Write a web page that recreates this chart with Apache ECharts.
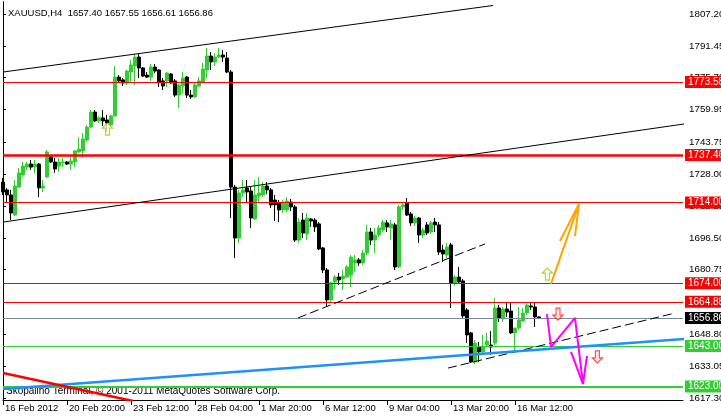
<!DOCTYPE html>
<html><head><meta charset="utf-8">
<script src="https://cdn.jsdelivr.net/npm/echarts@6/dist/echarts.min.js"></script>
<style>html,body{margin:0;padding:0;background:#fff}#c{width:721px;height:417px}</style>
</head><body><div id="c"></div>
<script>
// ---- data ----
const timeLabels = ['16 Feb 2012','20 Feb 20:00','23 Feb 12:00','28 Feb 04:00','1 Mar 20:00','6 Mar 12:00','9 Mar 04:00','13 Mar 20:00','16 Mar 12:00'];
const barsPerLabel = 16;
const slotCount = 171; // bar slots incl. empty chart shift on the right

const opens = [1724.1,1720.2,1717.7,1707.8,1721.6,1727.6,1731.5,1733.0,1731.5,1733.0,
1721.2,1726.6,1736.5,1734.0,1732.0,1733.5,1734.0,1733.0,1734.0,1739.0,
1739.5,1744.9,1751.3,1758.7,1754.3,1755.8,1754.8,1752.3,1756.8,1776.0,
1774.6,1773.1,1778.5,1781.5,1785.9,1780.5,1777.0,1776.0,1781.0,1779.5,
1774.1,1774.1,1777.5,1774.1,1767.1,1771.6,1776.0,1767.1,1766.2,1771.6,
1773.6,1779.5,1786.4,1783.5,1785.9,1786.9,1785.4,1778.5,1721.6,1696.4,
1718.7,1721.2,1719.7,1705.8,1717.2,1717.7,1722.1,1720.2,1715.2,1713.7,
1710.3,1710.3,1714.2,1711.8,1695.4,1705.3,1698.4,1705.8,1705.3,1703.4,
1691.5,1680.6,1665.8,1674.7,1677.1,1676.2,1677.1,1678.1,1684.1,1685.6,
1684.1,1689.0,1699.4,1695.4,1697.9,1700.4,1703.9,1701.4,1702.9,1682.1,
1711.8,1713.7,1708.3,1703.9,1706.3,1697.9,1702.9,1699.4,1704.3,1702.9,
1690.5,1688.0,1693.0,1674.2,1677.1,1675.2,1660.8,1649.5,1635.1,1642.5,
1640.1,1643.5,1643.5,1644.5,1661.8,1656.4,1661.3,1660.3,1649.5,1651.9,
1655.4,1659.3,1662.8,1662.3,1657.40];
const closes = [1719.2,1717.7,1708.8,1722.1,1728.6,1732.0,1733.0,1731.5,1733.0,1721.2,
1722.1,1739.0,1734.0,1730.6,1734.0,1734.0,1733.0,1734.5,1739.5,1740.4,
1745.4,1751.3,1758.7,1754.3,1755.8,1754.3,1753.3,1756.8,1776.0,1774.1,
1773.1,1779.0,1782.0,1785.9,1780.5,1776.5,1776.0,1781.0,1779.0,1773.6,
1771.6,1778.0,1773.1,1767.1,1772.1,1775.5,1767.1,1766.2,1772.1,1774.1,
1780.0,1786.4,1783.5,1785.9,1786.9,1785.9,1778.5,1721.6,1696.4,1718.7,
1720.2,1719.2,1706.3,1717.7,1718.7,1722.1,1720.2,1712.8,1712.8,1710.3,
1714.2,1714.7,1711.8,1695.4,1704.3,1698.9,1706.3,1704.8,1701.9,1691.0,
1680.6,1665.8,1674.2,1677.1,1675.7,1677.6,1682.1,1687.0,1685.6,1684.1,
1689.0,1699.4,1695.4,1697.9,1701.4,1704.3,1701.9,1703.4,1682.1,1711.8,
1712.8,1707.8,1703.9,1706.3,1697.9,1700.4,1698.9,1703.9,1702.9,1689.5,
1688.5,1692.0,1674.2,1677.1,1674.7,1657.9,1648.5,1635.1,1644.5,1640.1,
1642.5,1645.5,1642.5,1661.8,1656.9,1661.3,1659.8,1649.5,1651.9,1655.9,
1659.3,1663.3,1662.3,1657.4,1656.86];
const highs = [1726.1,1721.2,1720.2,1725.1,1731.0,1734.0,1734.0,1735.0,1735.0,1733.5,
1725.1,1739.9,1737.5,1736.0,1736.0,1736.0,1734.5,1737.5,1739.9,1746.4,
1748.4,1752.3,1759.7,1759.7,1756.8,1759.7,1757.3,1757.3,1781.5,1777.0,
1775.5,1779.5,1784.5,1787.4,1787.4,1781.0,1778.5,1782.5,1782.5,1780.0,
1775.5,1778.5,1778.0,1775.1,1772.6,1778.5,1776.5,1769.6,1773.1,1776.0,
1783.0,1790.4,1788.4,1787.9,1790.4,1789.4,1788.4,1779.5,1722.6,1720.2,
1725.1,1725.1,1721.6,1725.1,1726.6,1724.1,1724.1,1721.2,1717.7,1715.2,
1715.2,1716.7,1715.7,1712.8,1706.3,1708.8,1708.8,1706.3,1706.3,1704.3,
1692.0,1681.6,1674.7,1678.1,1679.1,1680.6,1683.1,1688.0,1688.0,1686.5,
1690.5,1702.9,1701.4,1701.4,1702.9,1705.3,1705.3,1705.3,1703.9,1712.8,
1713.7,1716.2,1709.3,1707.3,1706.8,1701.4,1704.3,1704.8,1706.3,1704.3,
1693.0,1694.0,1694.0,1678.1,1682.1,1676.2,1661.8,1650.0,1646.0,1645.0,
1648.5,1649.5,1650.4,1666.8,1663.3,1662.3,1664.3,1664.3,1651.9,1662.3,
1661.8,1664.3,1664.3,1664.3,1657.55];
const lows = [1717.7,1713.7,1705.3,1707.3,1721.2,1726.6,1730.1,1730.1,1728.6,1716.7,
1719.2,1726.1,1733.5,1728.6,1729.1,1731.5,1732.5,1730.1,1731.5,1738.5,
1736.0,1743.9,1750.8,1753.8,1753.3,1751.8,1748.8,1751.8,1756.3,1773.1,
1771.6,1772.1,1773.6,1772.1,1775.5,1776.0,1775.5,1774.1,1778.0,1771.1,
1769.6,1771.1,1772.6,1766.2,1760.7,1768.1,1765.7,1765.2,1765.7,1771.1,
1773.1,1775.5,1779.5,1781.5,1785.4,1783.5,1778.0,1706.3,1686.5,1694.0,
1716.7,1714.2,1701.4,1705.3,1714.2,1716.7,1718.2,1711.3,1704.8,1704.3,
1708.8,1709.3,1709.8,1694.5,1694.0,1696.4,1695.4,1701.9,1699.4,1690.5,
1679.1,1662.3,1664.8,1670.7,1673.2,1670.7,1676.6,1672.2,1679.6,1682.6,
1683.1,1688.0,1693.0,1689.0,1696.9,1699.4,1699.4,1695.4,1680.6,1681.6,
1710.3,1707.3,1702.4,1702.4,1694.0,1696.4,1697.9,1698.4,1699.4,1688.0,
1684.6,1686.5,1661.8,1672.7,1673.7,1656.9,1644.5,1634.6,1634.1,1635.1,
1639.6,1642.5,1638.6,1643.5,1654.9,1654.9,1657.4,1649.0,1639.6,1650.9,
1654.9,1658.4,1660.8,1652.4,1656.61];

const priceTicks = [1807.20,1791.45,1775.70,1759.95,1743.75,1728.00,1712.25,1696.50,1680.75,1664.78,1648.80,1633.05,1617.30];
const priceMin = 1616.31, priceMax = 1813.13;

// horizontal levels
const levelValues = [1773.58,1737.46,1714.00,1674.00,1664.88,1656.86,1643.00,1623.00];
// trend lines: [barIndex, price]
const channelUpper = [[0,1778.5],[122.5,1811.4]];
const channelLower = [[0,1704.3],[170.25,1752.8]];
const dashedUpper = [[73.75,1656.9],[120.5,1693.5]];
const dashedLower = [[111.25,1632.1],[168,1659.3]];
const blueLine = [[0,1621.8],[170.25,1646.5]];
const redLine = [[0,1629.7],[32.5,1615.8]];
const orangeShaft = [[137,1673.7],[144,1713.2]];
const orangeHeadA = [[139.25,1694.9],[144,1713.2]];
const orangeHeadB = [[143,1697.4],[144,1713.2]];
const magentaPath = [[136,1658.8],[137,1642.5],[143,1656.9],[145,1624.2]];
const magentaHeadA = [[142,1640.1],[145,1624.2]];
const magentaHeadB = [[146,1638.1],[145,1624.2]];
const upArrows = [[26.1,1750.3],[136.1,1678.6]];
const downArrows = [[138.75,1658.8],[148.6,1637.6]];

const titleText = 'XAUUSD,H4  1657.40 1657.55 1656.61 1656.86';
const footerText = 'Skopalino Terminal, \u00A9 2001-2011 MetaQuotes Software Corp.';

// ---- styles ----
const FONT = "'Liberation Sans', Arial, sans-serif";
const FS = 9.5;
const RED = '#ff0000', GREEN = '#32cd32';
const levelColors = [RED, RED, RED, RED, RED, '#778899', GREEN, GREEN];
const levelWidths = [1, 2.5, 1, 1, 1, 1, 1, 2];
const tagColors = [RED, RED, RED, RED, RED, '#000000', GREEN, GREEN];

const categories = [];
for (let i = 0; i < slotCount; i++) {
  const k = i / barsPerLabel;
  categories.push(Number.isInteger(k) && timeLabels[k] ? timeLabels[k] : 'b' + i);
}
const isLabel = (idx, val) => timeLabels.indexOf(val) >= 0;

const candleData = opens.map((o, i) => [o, closes[i], lows[i], highs[i]]);

function lineSeries(data, color, width, type) {
  return {
    type: 'line', xAxisIndex: 1, yAxisIndex: 0, data: data, showSymbol: false, symbol: 'none',
    silent: true, z: 5, animation: false,
    lineStyle: { color: color, width: width, type: type || 'solid' }
  };
}

const markData = levelValues.map((v, i) => ({
  yAxis: v,
  lineStyle: { color: levelColors[i], width: levelWidths[i], type: 'solid' },
  label: {
    show: true, position: 'end', distance: 2, formatter: v.toFixed(2),
    backgroundColor: tagColors[i], color: '#fff', fontFamily: FONT, fontSize: 10,
    padding: [1, 8, 0, 3], lineHeight: 11
  }
}));

const chart = echarts.init(document.getElementById('c'), null, { renderer: 'canvas' });
chart.setOption({
  animation: false,
  backgroundColor: '#fff',
  grid: { left: 3, right: 38, top: 2, bottom: 17, containLabel: false, outerBoundsMode: 'none' },
  xAxis: [{
    type: 'category', data: categories, boundaryGap: false,
    axisLine: { show: true, lineStyle: { color: '#000', width: 1 } },
    axisTick: { show: true, interval: isLabel, length: 5, lineStyle: { color: '#000' } },
    axisLabel: { show: true, interval: isLabel, align: 'left', margin: 3, color: '#000', fontFamily: FONT, fontSize: FS, padding: [0, 0, 0, 2] },
    splitLine: { show: false }
  }, {
    type: 'value', min: 0, max: slotCount - 1, show: false
  }],
  yAxis: [{
    type: 'value', position: 'right', min: priceMin, max: priceMax, scale: true,
    axisLine: { show: true, lineStyle: { color: '#000', width: 1 } },
    axisTick: { show: true, length: 3, customValues: priceTicks, lineStyle: { color: '#000' } },
    axisLabel: { show: true, customValues: priceTicks, margin: 6, color: '#000', fontFamily: FONT, fontSize: 9.8,
      formatter: v => v.toFixed(2) },
    splitLine: { show: false }
  }, {
    type: 'value', position: 'left', min: priceMin, max: priceMax,
    axisLine: { show: true, lineStyle: { color: '#000', width: 1 } },
    axisTick: { show: false }, axisLabel: { show: false }, splitLine: { show: false }
  }],
  title: {
    text: titleText, left: 3, top: 3,
    textStyle: { fontFamily: FONT, fontSize: 9.5, fontWeight: 'normal', color: '#000' }
  },
  graphic: [{
    type: 'text', left: 6, top: 386, silent: true,
    style: { text: footerText, fontFamily: FONT, fontSize: 10, fill: '#000' }
  }],
  series: [
    {
      type: 'candlestick', xAxisIndex: 0, yAxisIndex: 0, data: candleData, barWidth: 2.6, z: 3,
      itemStyle: { color: GREEN, color0: '#000', borderColor: GREEN, borderColor0: '#000', borderWidth: 1 },
      silent: true
    },
    {
      type: 'line', xAxisIndex: 1, yAxisIndex: 0, data: [], clip: false, silent: true, z: 4,
      markLine: { symbol: ['none', 'none'], silent: true, animation: false, data: markData }
    },
    lineSeries(channelUpper, '#000', 1),
    lineSeries(channelLower, '#000', 1),
    lineSeries(dashedUpper, '#000', 1, [9, 4]),
    lineSeries(dashedLower, '#000', 1, [9, 4]),
    lineSeries(blueLine, '#1e90ff', 2.5),
    lineSeries(redLine, RED, 2.5),
    lineSeries(orangeShaft, '#ffa500', 2),
    lineSeries(orangeHeadA, '#ffa500', 2),
    lineSeries(orangeHeadB, '#ffa500', 2),
    lineSeries(magentaPath, '#ff00ff', 2),
    lineSeries(magentaHeadA, '#ff00ff', 2),
    lineSeries(magentaHeadB, '#ff00ff', 2),
    {
      type: 'scatter', xAxisIndex: 1, yAxisIndex: 0, data: upArrows, silent: true, z: 6,
      symbol: 'path://M5,0L10,5L7,5L7,12L3,12L3,5L0,5Z', symbolSize: [10, 12],
      itemStyle: { color: '#ffffe0', borderColor: '#a8c800', borderWidth: 1.2 }
    },
    {
      type: 'scatter', xAxisIndex: 1, yAxisIndex: 0, data: downArrows, silent: true, z: 6,
      symbol: 'path://M3,0L7,0L7,7L10,7L5,12L0,7L3,7Z', symbolSize: [10, 12],
      itemStyle: { color: '#ffe0e0', borderColor: '#ff2020', borderWidth: 1.2 }
    }
  ]
});
</script></body></html>
